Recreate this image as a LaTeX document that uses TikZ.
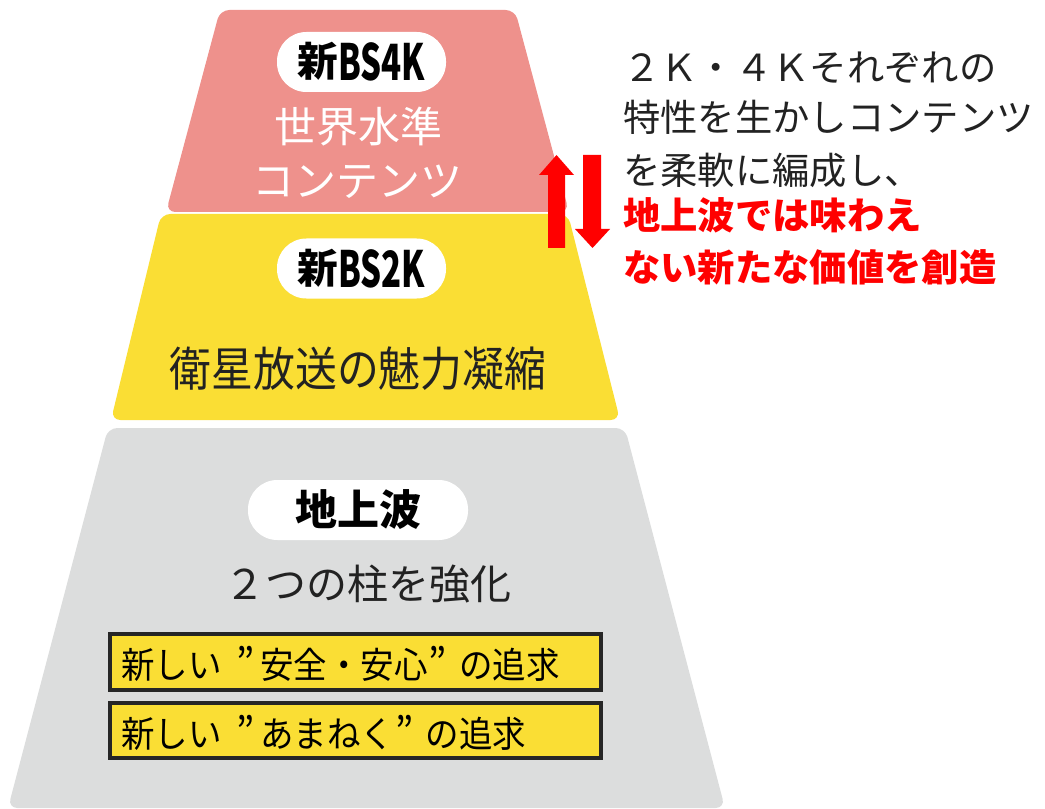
\documentclass[tikz,border=0pt]{standalone}
\usepackage{fontspec}
\usepackage{graphicx}
\setmainfont{Noto Sans CJK JP}
\newfontfamily\jp{Noto Sans CJK JP}
\definecolor{pinkc}{HTML}{EE918C}
\definecolor{yellowc}{HTML}{FADE34}
\definecolor{grayc}{HTML}{DCDDDD}
\definecolor{redc}{HTML}{FF0000}
\definecolor{darkc}{HTML}{222222}
\newcommand{\pilltxt}[2]{\raisebox{3pt}{\fontsize{30.5pt}{30.5pt}\selectfont\bfseries #1}\scalebox{0.66}[1]{\fontsize{37.5pt}{37.5pt}\selectfont\bfseries #2}}
\newcommand{\qgap}[1]{\makebox[#1][c]{\fontsize{31pt}{31pt}\selectfont ”}}
\tikzset{
  tier/.style={rounded corners=7pt},
  pill/.style={fill=white, rounded corners=22pt, minimum height=45pt, inner sep=0pt, text=black},
  txt/.style={inner sep=0pt, text=darkc},
  wtxt/.style={inner sep=0pt, text=white, font=\fontsize{31.5pt}{31.5pt}\selectfont},
  rtxt/.style={inner sep=0pt, anchor=west, font=\fontsize{28pt}{28pt}\selectfont},
  ybox/.style={fill=yellowc, draw=black!85, line width=2.4pt},
  btxt/.style={inner sep=0pt, anchor=west, text=black},
  redarrow/.style={fill=redc, draw=none}
}
\begin{document}
\begin{tikzpicture}[x=0.75pt,y=-0.75pt]
\useasboundingbox (0,0) rectangle (1045,809);
% tiers
\fill[pinkc, tier] (220,10) -- (515,10) -- (569,212) -- (166,212) -- cycle;
\fill[yellowc, tier] (161,214) -- (568,214) -- (620,420) -- (111,420) -- cycle;
\fill[grayc, tier] (108,428) -- (625,428) -- (725,808) -- (8,808) -- cycle;
% pink tier
\node[pill, minimum width=126.75pt] (p4k) at (361.5,62) {\pilltxt{新}{BS4K}};
\node[wtxt] (sekai) at (358,127) {世界水準};
\node[wtxt] (cont) at (357,182) {コンテンツ};
% yellow tier
\node[pill, minimum width=126.75pt] (p2k) at (361.5,268.5) {\pilltxt{新}{BS2K}};
\node[txt] (eisei) at (358,369) {\scalebox{0.89}[1]{\fontsize{35.25pt}{35.25pt}\selectfont 衛星放送の魅力凝縮}};
% gray tier
\node[pill, minimum width=165pt, font=\fontsize{31.5pt}{31.5pt}\selectfont\bfseries] (chijo) at (358,510) {\raisebox{2pt}{地上波}};
\node[txt, font=\fontsize{30.75pt}{30.75pt}\selectfont] (hashira) at (368,584) {２つの柱を強化};
\draw[ybox] (110,634) rectangle (601,690);
\draw[ybox] (110,703) rectangle (601,758);
\node[btxt] (b1) at (121,664) {\scalebox{0.93}[1]{\fontsize{27pt}{27pt}\selectfont 新しい\hspace{0.4em}\qgap{0.6em}\hspace{0.15em}安全・安心\qgap{0.6em}\hspace{0.35em}の追求}};
\node[btxt] (b2) at (121,733) {\scalebox{0.93}[1]{\fontsize{27pt}{27pt}\selectfont 新しい\hspace{0.4em}\qgap{0.6em}\hspace{0.15em}あまねく\qgap{0.6em}\hspace{0.35em}の追求}};
% arrows
\fill[redarrow] (556.5,155) -- (574,175) -- (565,175) -- (565,248) -- (548,248) -- (548,175) -- (539,175) -- cycle;
\fill[redarrow] (583,155) -- (601,155) -- (601,229) -- (610,229) -- (592.5,248) -- (575,229) -- (583,229) -- cycle;
% right text
\node[rtxt, text=darkc] (r1) at (623,67.5) {２Ｋ・４Ｋそれぞれの};
\node[rtxt, text=darkc] (r2) at (623,117.5) {特性を生かしコンテンツ};
\node[rtxt, text=darkc] (r3) at (623,170) {を柔軟に編成し、};
\node[rtxt, text=redc, font=\fontsize{28pt}{28pt}\selectfont\bfseries] (r4) at (623,215.5) {地上波では味わえ};
\node[rtxt, text=redc, font=\fontsize{28pt}{28pt}\selectfont\bfseries] (r5) at (623,267) {ない新たな価値を創造};
\end{tikzpicture}
\end{document}
